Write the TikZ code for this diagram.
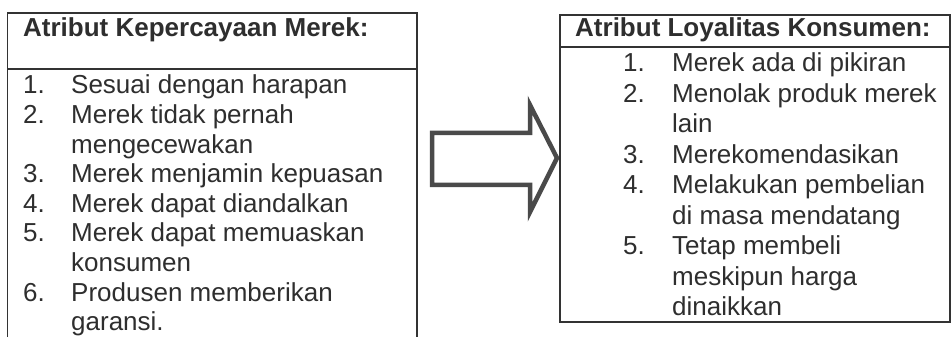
\documentclass[tikz,border=0pt]{standalone}
\usepackage{fontspec}
\setmainfont{Liberation Sans}
\definecolor{inkc}{HTML}{2E2E2E}
\definecolor{linec}{HTML}{333333}
\definecolor{arrc}{HTML}{4A4A4A}
\begin{document}
\begin{tikzpicture}[x=1pt,y=1pt,
  txt/.style={anchor=base west, inner sep=0pt, font=\fontsize{26}{30}\selectfont, text=inkc},
  ttl/.style={anchor=base west, inner sep=0pt, font=\fontsize{26}{30}\selectfont\bfseries, text=inkc},
  boxline/.style={draw=linec, line width=1.6pt},
  arrowshape/.style={draw=arrc, line width=4.5pt, line join=miter, fill=white}]
\useasboundingbox (0,0) rectangle (952,337);
\clip (0,0) rectangle (952,337);
% left box
\coordinate (LBL) at (7.5,0);
\coordinate (LTL) at (7.5,324);
\coordinate (LTR) at (417,324);
\coordinate (LBR) at (417,0);
\coordinate (LDL) at (7.5,268);
\coordinate (LDR) at (417,268);
\draw[boxline] (LBL) -- (LTL) -- (LTR) -- (LBR);
\draw[boxline] (LDL) -- (LDR);
\node[ttl] (lt) at (23,300) {Atribut Kepercayaan Merek:};
\node[txt] (ln1) at (23,243) {1.};
\node[txt] (l1) at (71,243) {Sesuai dengan harapan};
\node[txt] (ln2) at (23,213.4) {2.};
\node[txt] (l2) at (71,213.4) {Merek tidak pernah};
\node[txt] (l2b) at (71,183.8) {mengecewakan};
\node[txt] (ln3) at (23,154.2) {3.};
\node[txt] (l3) at (71,154.2) {Merek menjamin kepuasan};
\node[txt] (ln4) at (23,124.6) {4.};
\node[txt] (l4) at (71,124.6) {Merek dapat diandalkan};
\node[txt] (ln5) at (23,95) {5.};
\node[txt] (l5) at (71,95) {Merek dapat memuaskan};
\node[txt] (l5b) at (71,65.4) {konsumen};
\node[txt] (ln6) at (23,35.8) {6.};
\node[txt] (l6) at (71,35.8) {Produsen memberikan};
\node[txt] (l6b) at (71,6.2) {garansi.};
% arrow
\draw[arrowshape] (432,204) -- (530,204) -- (530,232) -- (557,179) -- (530,125) -- (530,152) -- (432,152) -- cycle;
% right box
\coordinate (RBL) at (560,15);
\coordinate (RTL) at (560,322);
\coordinate (RTR) at (950,322);
\coordinate (RBR) at (950,15);
\coordinate (RDL) at (560,290);
\coordinate (RDR) at (950,290);
\draw[boxline] (RBL) -- (RTL) -- (RTR) -- (RBR) -- cycle;
\draw[boxline] (RDL) -- (RDR);
\node[ttl] (rt) at (575,300) {Atribut Loyalitas Konsumen:};
\node[txt] (rn1) at (623,265) {1.};
\node[txt] (r1) at (672,265) {Merek ada di pikiran};
\node[txt] (rn2) at (623,234.5) {2.};
\node[txt] (r2) at (672,234.5) {Menolak produk merek};
\node[txt] (r2b) at (672,204) {lain};
\node[txt] (rn3) at (623,173.5) {3.};
\node[txt] (r3) at (672,173.5) {Merekomendasikan};
\node[txt] (rn4) at (623,143) {4.};
\node[txt] (r4) at (672,143) {Melakukan pembelian};
\node[txt] (r4b) at (672,112.5) {di masa mendatang};
\node[txt] (rn5) at (623,82) {5.};
\node[txt] (r5) at (672,82) {Tetap membeli};
\node[txt] (r5b) at (672,51.5) {meskipun harga};
\node[txt] (r5c) at (672,21) {dinaikkan};
\end{tikzpicture}
\end{document}
